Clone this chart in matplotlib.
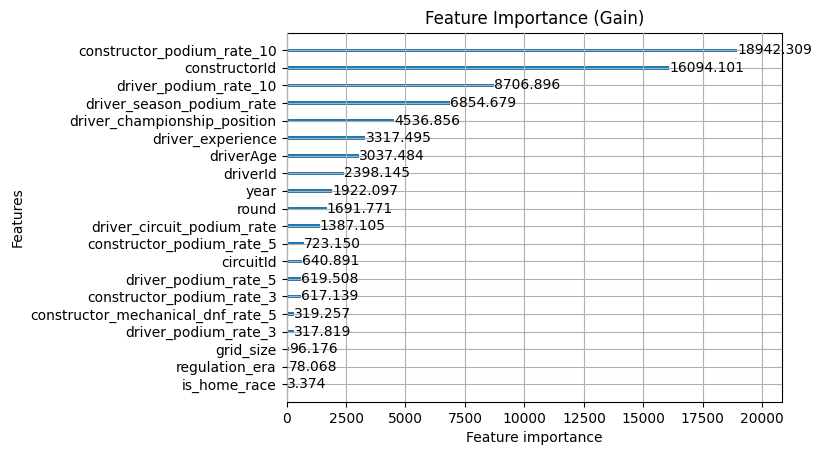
import matplotlib
matplotlib.use("Agg")
import matplotlib.pyplot as plt

features = ["constructor_podium_rate_10", "constructorId", "driver_podium_rate_10",
            "driver_season_podium_rate", "driver_championship_position", "driver_experience",
            "driverAge", "driverId", "year", "round", "driver_circuit_podium_rate",
            "constructor_podium_rate_5", "circuitId", "driver_podium_rate_5",
            "constructor_podium_rate_3", "constructor_mechanical_dnf_rate_5",
            "driver_podium_rate_3", "grid_size", "regulation_era", "is_home_race"]
gains = [18942.309, 16094.101, 8706.896, 6854.679, 4536.856, 3317.495, 3037.484,
         2398.145, 1922.097, 1691.771, 1387.105, 723.150, 640.891, 619.508, 617.139,
         319.257, 317.819, 96.176, 78.068, 3.374]

labels = features[::-1]
values = gains[::-1]

fig = plt.figure(figsize=(8.21, 4.55), dpi=100)
ax = fig.add_axes([0.3490, 0.1165, 0.9528 - 0.3490, 0.9281 - 0.1165])
ylocs = list(range(len(values)))
ax.barh(ylocs, values, align="center", height=0.2)
for x, y in zip(values, ylocs):
    ax.text(x + 1, y, f"{x:.3f}", va="center", fontsize=10)
ax.set_yticks(ylocs)
ax.set_yticklabels(labels)
ax.set_xlim(0, max(values) * 1.1)
ax.set_ylim(-1, len(values))
ax.grid(True)
ax.set_axisbelow(False)
ax.set_title("Feature Importance (Gain)")
ax.set_xlabel("Feature importance")
ax.set_ylabel("Features")
fig.savefig("out.png", dpi=100)
